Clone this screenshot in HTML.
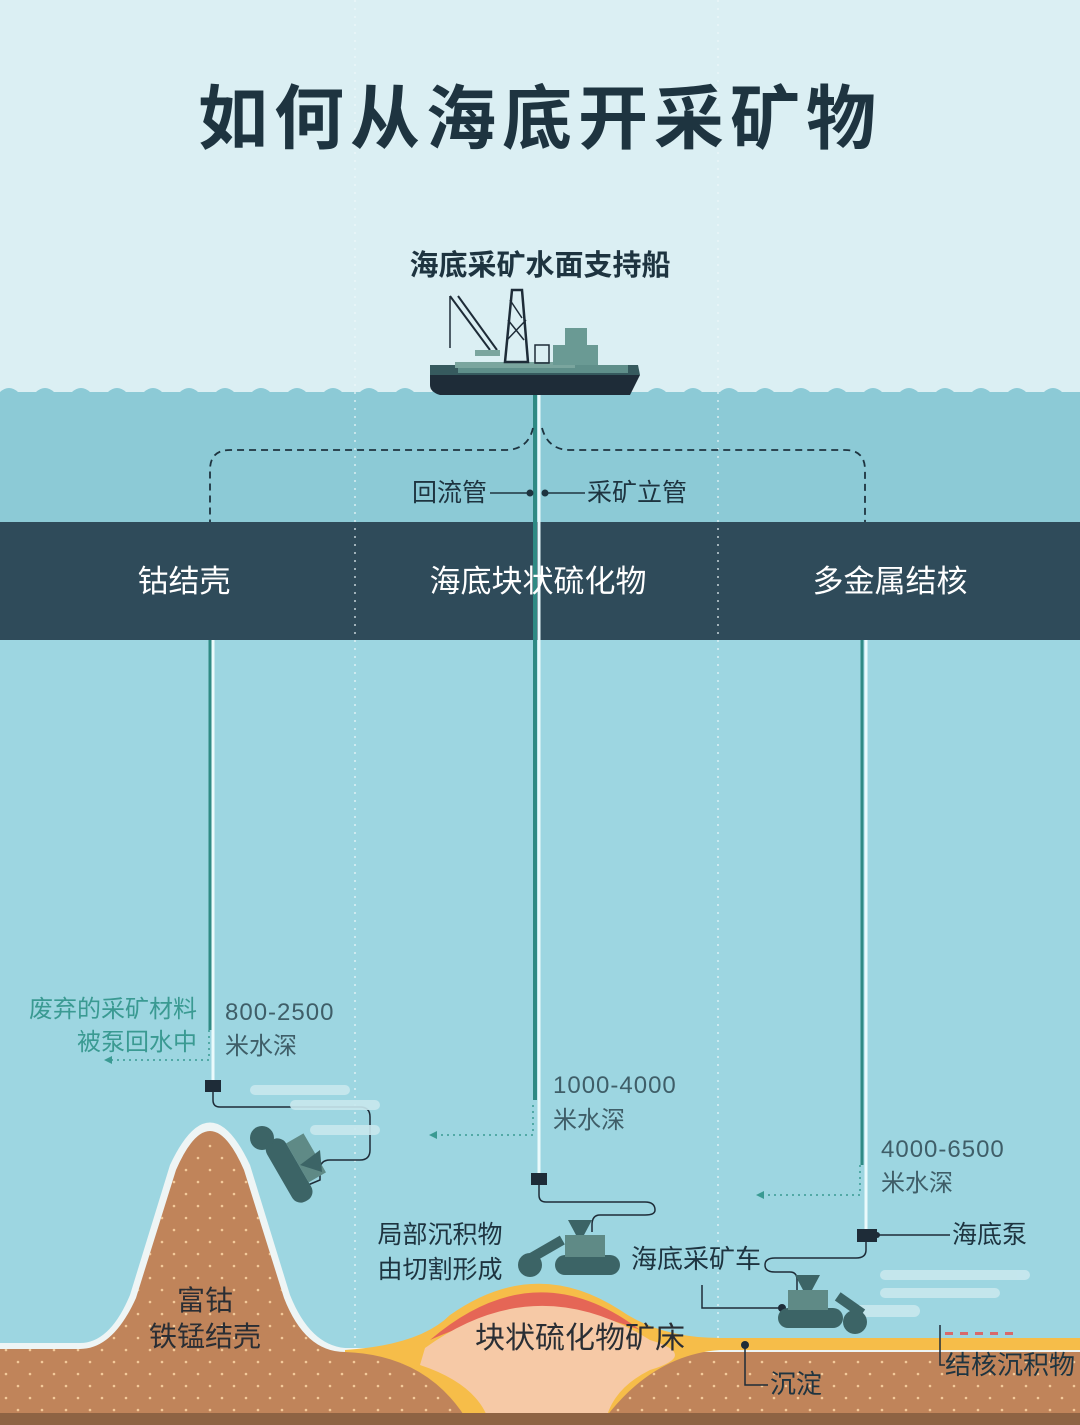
<!DOCTYPE html>
<html><head><meta charset="utf-8"><style>
html,body{margin:0;padding:0;width:1080px;height:1425px;overflow:hidden}
text{font-family:"Liberation Sans","Noto Sans CJK SC",sans-serif}
</style></head><body>
<svg width="1080" height="1425" viewBox="0 0 1080 1425" xmlns="http://www.w3.org/2000/svg">
<defs>
<pattern id="dots" width="24" height="24" patternUnits="userSpaceOnUse"><circle cx="6" cy="6" r="1.3" fill="#f3c999"/><circle cx="18" cy="18" r="1.3" fill="#f3c999"/></pattern>
</defs>
<rect width="1080" height="395" fill="#dbeff3"/>
<rect y="392" width="1080" height="130" fill="#8ccad6"/>
<path d="M0 392 q9 -8 18 0 t18 0 t18 0 t18 0 t18 0 t18 0 t18 0 t18 0 t18 0 t18 0 t18 0 t18 0 t18 0 t18 0 t18 0 t18 0 t18 0 t18 0 t18 0 t18 0 t18 0 t18 0 t18 0 t18 0 t18 0 t18 0 t18 0 t18 0 t18 0 t18 0 t18 0 t18 0 t18 0 t18 0 t18 0 t18 0 t18 0 t18 0 t18 0 t18 0 t18 0 t18 0 t18 0 t18 0 t18 0 t18 0 t18 0 t18 0 t18 0 t18 0 t18 0 t18 0 t18 0 t18 0 t18 0 t18 0 t18 0 t18 0 t18 0 t18 0 t18 0 t18 0 V400 H0Z" fill="#8ccad6"/>
<rect y="640" width="1080" height="785" fill="#9dd6e1"/>
<rect y="522" width="1080" height="118" fill="#2f4b5a"/>
<line x1="355" y1="0" x2="355" y2="1425" stroke="#eef8fa" stroke-width="1.5" stroke-dasharray="2 6" opacity="0.8"/>
<line x1="718" y1="0" x2="718" y2="1425" stroke="#eef8fa" stroke-width="1.5" stroke-dasharray="2 6" opacity="0.8"/>
<text x="540" y="143" text-anchor="middle" font-size="70" font-weight="bold" fill="#1e3440" letter-spacing="6">如何从海底开采矿物</text>
<text x="540" y="275" text-anchor="middle" font-size="29" font-weight="bold" fill="#1e3440">海底采矿水面支持船</text>
<g>
<path d="M430 375 H640 L630 395 H440 Q430 392 430 385Z" fill="#1e2c38"/>
<path d="M430 375 H640 L638 365 H430Z" fill="#365a5e"/>
<rect x="458" y="365" width="170" height="8" fill="#5f8f8a"/>
<rect x="455" y="362" width="120" height="6" fill="#7aa59e"/>
<rect x="553" y="345" width="45" height="20" fill="#6a9a94"/>
<rect x="565" y="328" width="22" height="18" fill="#6a9a94"/>
<path d="M450 296 L490 350 M458 296 L497 350" stroke="#1e2c38" stroke-width="2"/>
<line x1="450" y1="296" x2="450" y2="348" stroke="#1e2c38" stroke-width="1.5"/>
<rect x="475" y="350" width="25" height="6" fill="#7aa59e"/>
<path d="M505 362 L512 290 L522 290 L528 362Z" fill="none" stroke="#1e2c38" stroke-width="2.5"/>
<path d="M507 340 L526 320 M508 320 L524 340 M510 300 L522 318" stroke="#1e2c38" stroke-width="1.5"/>
<rect x="535" y="345" width="14" height="18" fill="none" stroke="#1e2c38" stroke-width="1.5"/>
</g>
<line x1="535" y1="395" x2="535" y2="1100" stroke="#2f8a84" stroke-width="4"/>
<line x1="539" y1="395" x2="539" y2="1175" stroke="#eafafc" stroke-width="3"/>
<line x1="210" y1="640" x2="210" y2="1030" stroke="#2f8a84" stroke-width="3"/>
<line x1="213" y1="640" x2="213" y2="1080" stroke="#eafafc" stroke-width="3"/>
<line x1="862" y1="640" x2="862" y2="1165" stroke="#2f8a84" stroke-width="3"/>
<line x1="866" y1="640" x2="866" y2="1230" stroke="#eafafc" stroke-width="3"/>
<path d="M533 428 Q528 450 505 450 H230 Q210 450 210 470 V522" fill="none" stroke="#1e3440" stroke-width="1.8" stroke-dasharray="7 5"/>
<path d="M542 428 Q548 450 570 450 H845 Q865 450 865 470 V522" fill="none" stroke="#1e3440" stroke-width="1.8" stroke-dasharray="7 5"/>
<text x="487" y="501" text-anchor="end" font-size="25" fill="#1e3440">回流管</text>
<line x1="490" y1="493" x2="530" y2="493" stroke="#1e3440" stroke-width="1.5"/>
<circle cx="530" cy="493" r="3.5" fill="#1e3440"/>
<circle cx="545" cy="493" r="3.5" fill="#1e3440"/>
<line x1="545" y1="493" x2="585" y2="493" stroke="#1e3440" stroke-width="1.5"/>
<text x="587" y="501" font-size="25" fill="#1e3440">采矿立管</text>
<text x="184" y="592" text-anchor="middle" font-size="31" fill="#ffffff">钴结壳</text>
<text x="538" y="592" text-anchor="middle" font-size="31" fill="#ffffff">海底块状硫化物</text>
<text x="890" y="592" text-anchor="middle" font-size="31" fill="#ffffff">多金属结核</text>
<g fill="none" stroke="#3a9a92" stroke-width="1.5" stroke-dasharray="2 4">
<path d="M209 1030 V1060 H110"/><path d="M533 1105 V1135 H435"/><path d="M860 1165 V1195 H762"/>
</g>
<path d="M104 1060 l8 -4 v8Z M429 1135 l8 -4 v8Z M756 1195 l8 -4 v8Z" fill="#3a9a92"/>
<text x="197" y="1017" text-anchor="end" font-size="24" fill="#3a9a92">废弃的采矿材料</text>
<text x="197" y="1050" text-anchor="end" font-size="24" fill="#3a9a92">被泵回水中</text>
<text x="225" y="1020" font-size="24" fill="#3f5e68" letter-spacing="1">800-2500</text>
<text x="225" y="1054" font-size="24" fill="#3f5e68">米水深</text>
<text x="553" y="1093" font-size="24" fill="#3f5e68" letter-spacing="1">1000-4000</text>
<text x="553" y="1128" font-size="24" fill="#3f5e68">米水深</text>
<text x="881" y="1157" font-size="24" fill="#3f5e68" letter-spacing="1">4000-6500</text>
<text x="881" y="1191" font-size="24" fill="#3f5e68">米水深</text>
<rect x="205" y="1080" width="16" height="12" fill="#1e2c38"/>
<rect x="531" y="1173" width="16" height="12" fill="#1e2c38"/>
<rect x="857" y="1229" width="20" height="13" fill="#1e2c38"/>
<path d="M213 1092 V1100 Q213 1107 220 1107 H360 Q370 1107 370 1117 V1150 Q370 1160 360 1160 H330 Q320 1160 320 1170 V1180 L308 1185" fill="none" stroke="#1e2c38" stroke-width="1.5"/>
<path d="M539 1185 V1195 Q539 1202 546 1202 H645 Q655 1202 655 1210 Q655 1215 645 1215 H600 Q592 1215 592 1225 V1232" fill="none" stroke="#1e2c38" stroke-width="1.5"/>
<path d="M866 1242 V1250 Q866 1258 856 1258 H775 Q765 1258 765 1265 Q765 1272 775 1272 H790 Q797 1272 797 1280 V1290" fill="none" stroke="#1e2c38" stroke-width="1.5"/>
<line x1="877" y1="1235" x2="950" y2="1235" stroke="#1e2c38" stroke-width="1.5"/><circle cx="877" cy="1235" r="3" fill="#1e2c38"/>
<text x="952" y="1243" font-size="25" fill="#1e3440">海底泵</text>
<g fill="#c9e8ee" opacity="0.9">
<rect x="250" y="1085" width="100" height="10" rx="5"/><rect x="290" y="1100" width="90" height="10" rx="5"/><rect x="310" y="1125" width="70" height="10" rx="5"/>
<rect x="880" y="1270" width="150" height="10" rx="5"/><rect x="880" y="1288" width="120" height="10" rx="5"/><rect x="850" y="1305" width="70" height="12" rx="6"/>
</g>
<path d="M0 1343 H80 Q110 1343 130 1295 L170 1165 Q210 1080 250 1165 L290 1295 Q310 1345 345 1348 H1080 V1425 H0Z" fill="#eef5f5"/>
<path d="M0 1349 H80 Q113 1349 136 1298 L176 1170 Q210 1092 244 1170 L284 1298 Q305 1352 345 1352 H1080 V1425 H0Z" fill="#c0845a"/>
<path d="M0 1349 H80 Q113 1349 136 1298 L176 1170 Q210 1092 244 1170 L284 1298 Q305 1352 345 1352 H1080 V1425 H0Z" fill="url(#dots)"/>
<path d="M345 1350 Q420 1345 450 1315 Q535 1255 620 1310 Q660 1338 720 1338 H1080 V1350 H720 Q650 1355 600 1425 H470 Q430 1355 345 1352Z" fill="#f6bd49"/>
<path d="M430 1340 Q535 1250 640 1330 Q540 1290 430 1340Z" fill="#e56656"/>
<path d="M425 1348 Q535 1268 650 1340 Q700 1355 650 1370 Q610 1390 605 1425 H490 Q480 1385 420 1365Z" fill="#f6c9a6"/>
<path d="M720 1345 H1080 V1350 H720Z" fill="#f6bd49"/>
<rect y="1413" width="1080" height="12" fill="#8e6343"/>
<text x="205" y="1310" text-anchor="middle" font-size="28" fill="#2a2e34">富钴</text>
<text x="205" y="1346" text-anchor="middle" font-size="28" fill="#2a2e34">铁锰结壳</text>
<text x="580" y="1348" text-anchor="middle" font-size="30" fill="#2a2e34">块状硫化物矿床</text>
<text x="440" y="1243" text-anchor="middle" font-size="25" fill="#1e3440">局部沉积物</text>
<text x="440" y="1278" text-anchor="middle" font-size="25" fill="#1e3440">由切割形成</text>
<text x="631" y="1268" font-size="26" fill="#1e3440">海底采矿车</text>
<path d="M702 1285 V1308 H780" fill="none" stroke="#1e2c38" stroke-width="1.5"/><circle cx="782" cy="1308" r="4" fill="#1e2c38"/>
<circle cx="745" cy="1345" r="4" fill="#1e2c38"/>
<path d="M745 1345 V1385 H768" fill="none" stroke="#1e2c38" stroke-width="1.5"/>
<text x="770" y="1393" font-size="26" fill="#1e3440">沉淀</text>
<path d="M940 1325 V1365 H945" fill="none" stroke="#1e2c38" stroke-width="1.5"/>
<text x="945" y="1374" font-size="26" fill="#1e3440">结核沉积物</text>
<g fill="#d86a6a"><rect x="945" y="1332" width="8" height="3"/><rect x="960" y="1332" width="8" height="3"/><rect x="975" y="1332" width="8" height="3"/><rect x="990" y="1332" width="8" height="3"/><rect x="1005" y="1332" width="8" height="3"/></g>
<g fill="#3c6466">
<g transform="rotate(60 290 1170)"><rect x="255" y="1160" width="70" height="22" rx="10"/><rect x="265" y="1140" width="45" height="20" fill="#5f8a86"/></g>
<circle cx="262" cy="1138" r="12"/><polygon points="300,1165 320,1150 322,1172"/>
<rect x="555" y="1255" width="65" height="20" rx="10"/><rect x="565" y="1235" width="40" height="22" fill="#5f8a86"/><polygon points="568,1220 592,1220 584,1235 576,1235"/>
<circle cx="530" cy="1265" r="12"/><rect x="530" y="1245" width="35" height="10" transform="rotate(-30 545 1250)"/>
<rect x="778" y="1308" width="65" height="20" rx="10"/><rect x="788" y="1290" width="40" height="20" fill="#5f8a86"/><polygon points="795,1275 820,1275 812,1290 803,1290"/>
<circle cx="855" cy="1322" r="12"/><rect x="835" y="1300" width="30" height="10" transform="rotate(35 850 1305)"/>
</g>
</svg>
</body></html>
